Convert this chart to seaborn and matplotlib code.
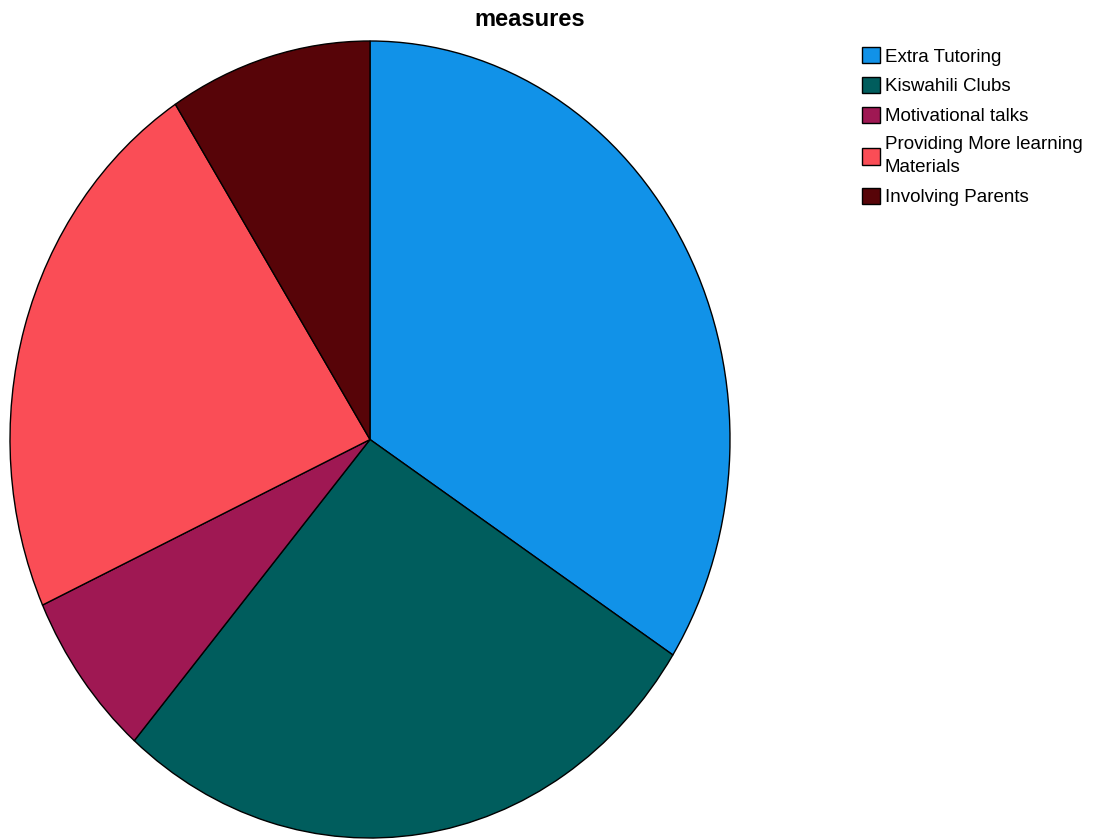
import matplotlib
matplotlib.use("Agg")
import matplotlib.pyplot as plt
import seaborn as sns
from matplotlib.patches import Patch
from matplotlib import font_manager

categories = ["Extra Tutoring", "Kiswahili Clubs", "Motivational talks",
              "Providing More learning\nMaterials", "Involving Parents"]
counts = [30, 24, 6, 20, 8]
colors = ["#1192E8", "#005D5D", "#9F1853", "#FA4D56", "#570408"]

sns.set_theme(style="white")
names = {f.name for f in font_manager.fontManager.ttflist}
fam = "Liberation Sans Narrow" if "Liberation Sans Narrow" in names else "Liberation Sans"
plt.rcParams["font.family"] = [fam, "DejaVu Sans"]

W, H = 1108, 839
fig = plt.figure(figsize=(W / 100, H / 100), dpi=100)
fig.patch.set_facecolor("white")
ax = fig.add_axes([10 / W, 1 / H, 720 / W, 797 / H])
wedges, _ = ax.pie(counts, colors=colors, startangle=90, counterclock=False,
                   wedgeprops=dict(edgecolor="black", linewidth=1.0))
ax.set_aspect("auto")
ax.set_xlim(-1.0, 1.0)
ax.set_ylim(-1.0, 1.0)
ax.axis("off")

fig.text(530 / W, 1 - 19 / H, "measures", ha="center", va="center",
         fontsize=17, fontweight="bold", color="black",
         family=[fam, "DejaVu Sans"])

handles = [Patch(facecolor=c, edgecolor="black", linewidth=1.0) for c in colors]
leg = fig.legend(handles, categories, loc="upper left",
                 bbox_to_anchor=(849 / W, 1 - 34 / H), frameon=False,
                 fontsize=13.5, handlelength=0.95, handleheight=0.95,
                 handletextpad=0.25, labelspacing=0.6, borderpad=0.2,
                 labelcolor="black")
for t in leg.get_texts():
    t.set_linespacing(1.45)

fig.savefig("out.png", dpi=100, facecolor="white")
